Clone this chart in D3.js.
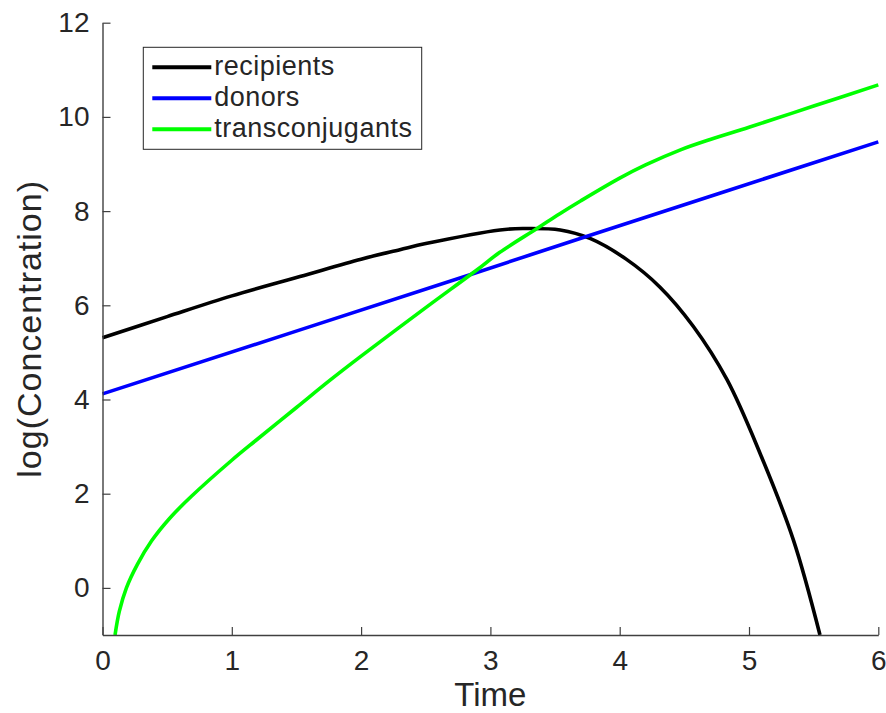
<!DOCTYPE html>
<html>
<head>
<meta charset="utf-8">
<script src="https://cdn.jsdelivr.net/npm/d3@7"></script>
<style>
  html, body { margin: 0; padding: 0; background: #fff; }
  svg text { font-family: "Liberation Sans", Arial, Helvetica, sans-serif; fill: #262626; }
</style>
</head>
<body>
<div id="chart"></div>
<script>
// readings (time, log concentration)
const recipients = [
    [0, 5.31], [0.5, 5.76], [1.0, 6.2], [1.527, 6.61], [2.0, 6.98], [2.3, 7.18],
    [2.5, 7.31], [3.074, 7.6], [3.25, 7.63], [3.54, 7.6], [3.77, 7.42], [4.05, 6.98],
    [4.31, 6.39], [4.57, 5.55], [4.83, 4.42], [5.085, 2.86], [5.343, 1.02], [5.549, -1]
];
const donors = [[0, 4.12], [2.842, 6.65], [3.73, 7.45], [6, 9.47]];
const transconjugants = [
    [0.097, -1], [0.13, -0.5], [0.185, 0], [0.27, 0.5], [0.38, 1], [0.52, 1.48],
    [0.69, 1.95], [1.0, 2.71], [1.19, 3.14], [1.5, 3.83], [1.76, 4.41], [2.0, 4.92],
    [2.5, 5.95], [2.9, 6.76], [3.07, 7.12], [3.36, 7.63], [3.54, 7.95], [3.7, 8.22],
    [4.0, 8.7], [4.2, 8.98], [4.47, 9.3], [4.7, 9.52], [5.0, 9.78], [5.5, 10.23], [6.0, 10.68]
];

const seriesNames = ["recipients", "donors", "transconjugants"];
const seriesColors = ["#000000", "#0000ff", "#00ff00"];
const seriesData = [recipients, donors, transconjugants];

const xTicks = [0, 1, 2, 3, 4, 5, 6];
const yTicks = [0, 2, 4, 6, 8, 10, 12];
const xDomain = [0, 6];
const yDomain = [-1, 12];

const width = 886, height = 713;
const margin = { left: 102.5, right: 886 - 878.3, top: 22.7, bottom: height - 635 };

const svg = d3.select("#chart").append("svg")
    .attr("width", width)
    .attr("height", height);

const x = d3.scaleLinear().domain(xDomain).range([margin.left, width - margin.right]);
const y = d3.scaleLinear().domain(yDomain).range([height - margin.bottom, margin.top]);

// lines
const line = d3.line()
    .x(d => x(d[0]))
    .y(d => y(d[1]))
    .curve(d3.curveCatmullRom.alpha(0.5));

svg.append("g")
    .selectAll("path")
    .data(seriesData)
    .enter().append("path")
    .attr("d", line)
    .attr("fill", "none")
    .attr("stroke", (d, i) => seriesColors[i])
    .attr("stroke-width", 3.6)
    .attr("stroke-linejoin", "round");

// axes, ticks pointing inward like matlab
const xAxis = svg.append("g")
    .attr("transform", `translate(0,${y(yDomain[0])})`)
    .call(d3.axisBottom(x).tickValues(xTicks).tickFormat(d3.format("d"))
        .tickSizeInner(-8).tickSizeOuter(0).tickPadding(15));

const yAxis = svg.append("g")
    .attr("transform", `translate(${x(xDomain[0])},0)`)
    .call(d3.axisLeft(y).tickValues(yTicks).tickFormat(d3.format("d"))
        .tickSizeInner(-8).tickSizeOuter(0).tickPadding(13));

[xAxis, yAxis].forEach(ax => {
    ax.select(".domain").attr("stroke", "#404040").attr("stroke-width", 1.4);
    ax.selectAll(".tick line").attr("stroke", "#404040").attr("stroke-width", 1.2);
    ax.selectAll(".tick text").style("font-size", "28px").attr("fill", "#262626");
});

// axis labels
svg.append("text")
    .attr("x", (x(xDomain[0]) + x(xDomain[1])) / 2)
    .attr("y", 706)
    .attr("text-anchor", "middle")
    .style("font-size", "33px")
    .text("Time");

svg.append("text")
    .attr("transform", `translate(41,${(y(yDomain[0]) + y(yDomain[1])) / 2}) rotate(-90)`)
    .attr("text-anchor", "middle")
    .style("font-size", "34px")
    .style("letter-spacing", "1px")
    .text("log(Concentration)");

// legend
const legend = svg.append("g").attr("transform", "translate(143.3,47.3)");
legend.append("rect")
    .attr("width", 278.4)
    .attr("height", 102)
    .attr("fill", "#fff")
    .attr("stroke", "#262626")
    .attr("stroke-width", 1);

const rows = legend.selectAll(".row")
    .data(seriesNames)
    .enter().append("g")
    .attr("class", "row")
    .attr("transform", (d, i) => `translate(0,${20 + i * 31})`);

rows.append("line")
    .attr("x1", 9).attr("x2", 68)
    .attr("stroke", (d, i) => seriesColors[i])
    .attr("stroke-width", 4);

rows.append("text")
    .attr("x", 71)
    .attr("y", 7.5)
    .style("font-size", "27px")
    .style("letter-spacing", "0.5px")
    .attr("fill", "#000")
    .text(d => d);
</script>
</body>
</html>
